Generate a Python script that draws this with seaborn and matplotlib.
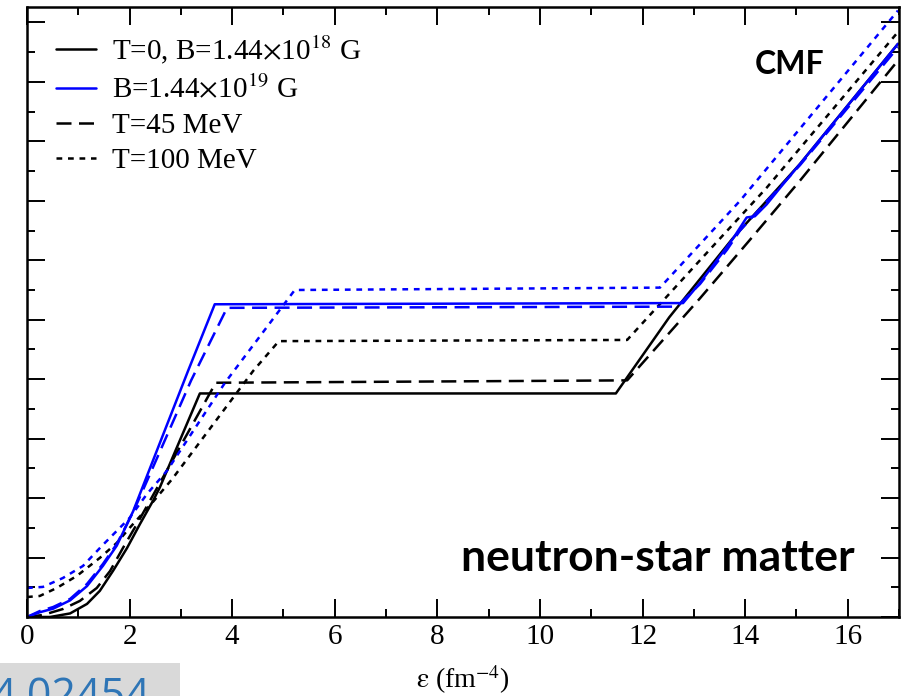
import numpy as np
import pandas as pd
import matplotlib
matplotlib.use("Agg")
import matplotlib.pyplot as plt
from matplotlib.lines import Line2D
from matplotlib.ticker import MultipleLocator, NullFormatter
import seaborn as sns

# ---------------- data (energy density eps [fm^-4], pressure p [fm^-4]) ----------------
eps_T0_B18 = [0.0, 0.45, 0.84, 1.17, 1.42, 1.68, 1.95, 2.20, 2.46, 2.59, 3.37, 11.48, 12.52, 13.75, 15.07, 16.98]
p_T0_B18   = [0.0, 0.0, 0.03, 0.11, 0.22, 0.39, 0.58, 0.78, 0.98, 1.09, 1.88, 1.88, 2.52, 3.18, 3.81, 4.82]

eps_T45_B18 = [0.0, 0.31, 0.70, 1.03, 1.36, 1.62, 1.87, 2.14, 2.40, 3.68, 11.70, 13.12, 14.09, 15.07, 16.98]
p_T45_B18   = [0.0, 0.017, 0.067, 0.135, 0.244, 0.387, 0.58, 0.78, 0.98, 1.97, 1.99, 2.68, 3.17, 3.67, 4.68]

eps_T100_B18 = [0.0, 0.25, 0.58, 0.97, 1.42, 1.75, 2.0, 2.44, 2.83, 4.41, 4.91, 11.70, 13.12, 14.42, 16.98]
p_T100_B18   = [0.168, 0.177, 0.244, 0.345, 0.497, 0.623, 0.749, 0.96, 1.16, 2.07, 2.32, 2.33, 3.0, 3.61, 4.92]

eps_T0_B19 = [0.0, 0.25, 0.51, 0.84, 1.17, 1.48, 1.75, 2.07, 3.14, 3.66, 12.79, 13.12, 13.45, 13.76, 14.03, 14.19, 14.42, 14.74, 15.07, 16.98]
p_T0_B19   = [0.0, 0.04, 0.07, 0.14, 0.26, 0.43, 0.60, 0.89, 2.07, 2.63, 2.64, 2.81, 3.00, 3.18, 3.36, 3.37, 3.47, 3.64, 3.81, 4.82]

eps_T45_B19 = [0.0, 0.25, 0.51, 0.84, 1.17, 1.48, 1.75, 1.95, 2.14, 2.34, 3.20, 3.90, 12.67, 13.12, 13.65, 13.90, 14.09, 15.07, 16.98]
p_T45_B19   = [0.0, 0.05, 0.084, 0.152, 0.278, 0.446, 0.614, 0.783, 0.951, 1.145, 1.99, 2.60, 2.61, 2.80, 3.09, 3.25, 3.34, 3.80, 4.79]

eps_T100_B19 = [0.0, 0.31, 0.70, 1.09, 1.46, 1.75, 2.0, 2.34, 2.73, 3.37, 3.86, 5.22, 12.34, 13.90, 16.98]
p_T100_B19   = [0.244, 0.253, 0.328, 0.429, 0.598, 0.724, 0.833, 1.035, 1.23, 1.65, 1.97, 2.75, 2.77, 3.50, 5.10]

legend_labels = [r"T=0, B=1.44$\times$10$^{18}$ G", r"B=1.44$\times$10$^{19}$ G", "T=45 MeV", "T=100 MeV"]
x_ticks = [0, 2, 4, 6, 8, 10, 12, 14, 16]

series = [
    (eps_T0_B18, p_T0_B18, "black", "solid"),
    (eps_T45_B18, p_T45_B18, "black", "dashed"),
    (eps_T100_B18, p_T100_B18, "black", "dotted"),
    (eps_T0_B19, p_T0_B19, "#0000ff", "solid"),
    (eps_T45_B19, p_T45_B19, "#0000ff", "dashed"),
    (eps_T100_B19, p_T100_B19, "#0000ff", "dotted"),
]

# ---------------- style ----------------
sns.set_theme(style="white")
plt.rcParams["font.family"] = ["Liberation Serif", "DejaVu Serif"]
plt.rcParams["mathtext.fontset"] = "stix"
plt.rcParams["text.color"] = "black"
plt.rcParams["axes.labelcolor"] = "black"
plt.rcParams["xtick.color"] = "black"
plt.rcParams["ytick.color"] = "black"

LW = 1.8
dash_map = {"solid": (None, None), "dashed": (0, (6, 3)), "dotted": (0, (2.3, 2.3))}

fig = plt.figure(figsize=(9.06, 6.96), dpi=100)
ax = fig.add_axes([27 / 906, 1 - 617 / 696, (899 - 27) / 906, (617 - 7) / 696])

for xs, ys, col, sty in series:
    df = pd.DataFrame({"eps": xs, "p": ys})
    line_ax = sns.lineplot(data=df, x="eps", y="p", color=col, lw=LW, sort=False,
                           estimator=None, ax=ax)
    ln = line_ax.get_lines()[-1]
    if sty != "solid":
        ln.set_linestyle(dash_map[sty])

ax.set_xlim(0, 17)
ax.set_ylim(0, 5.13)
ax.xaxis.set_major_locator(MultipleLocator(2))
ax.xaxis.set_minor_locator(MultipleLocator(1))
ax.yaxis.set_major_locator(MultipleLocator(0.5))
ax.yaxis.set_minor_locator(MultipleLocator(0.25))
ax.set_xticks(x_ticks)
ax.set_xticklabels([str(t) for t in x_ticks])
ax.yaxis.set_major_formatter(NullFormatter())
ax.tick_params(which="both", direction="in", top=True, right=True, left=True, bottom=True,
               width=1.4, color="black", labelcolor="black")
ax.tick_params(which="major", length=13, labelsize=21, pad=5)
ax.tick_params(which="minor", length=6)
ax.set_ylabel("")
ax.set_xlabel(r"$\mathrm{\varepsilon}$ (fm$^{-4}$)", fontsize=20, labelpad=10, color="black")
for s in ax.spines.values():
    s.set_linewidth(1.8)
    s.set_color("black")

handles = [
    Line2D([], [], color="black", lw=LW),
    Line2D([], [], color="#0000ff", lw=LW),
    Line2D([], [], color="black", lw=LW, linestyle=dash_map["dashed"]),
    Line2D([], [], color="black", lw=LW, linestyle=dash_map["dotted"]),
]
leg = ax.legend(handles, legend_labels, loc="upper left", frameon=False, fontsize=21,
                handlelength=1.35, handletextpad=0.55, labelspacing=0.3,
                bbox_to_anchor=(0.01, 0.99), borderaxespad=0.3)
for t in leg.get_texts():
    t.set_color("black")

ax.text(0.874, 0.905, "CMF", transform=ax.transAxes, fontsize=23, fontweight="bold",
        family=["Lato", "DejaVu Sans"], ha="center", va="center", color="black")
ax.text(0.723, 0.097, "neutron-star matter", transform=ax.transAxes, fontsize=32,
        fontweight="bold", family=["Lato", "DejaVu Sans"], ha="center", va="center",
        color="black")

# cut-off gray label at bottom-left
fig.patches.append(plt.Rectangle((0, 0), 180 / 906, 33 / 696, transform=fig.transFigure,
                                 facecolor="#d9d9d9", edgecolor="none", zorder=0))
fig.text(-9 / 906, -13 / 696, "4.02454", fontsize=31, color="#2e75b6",
         family=["Open Sans", "DejaVu Sans"], ha="left", va="baseline")

fig.savefig("out.png", dpi=100)
